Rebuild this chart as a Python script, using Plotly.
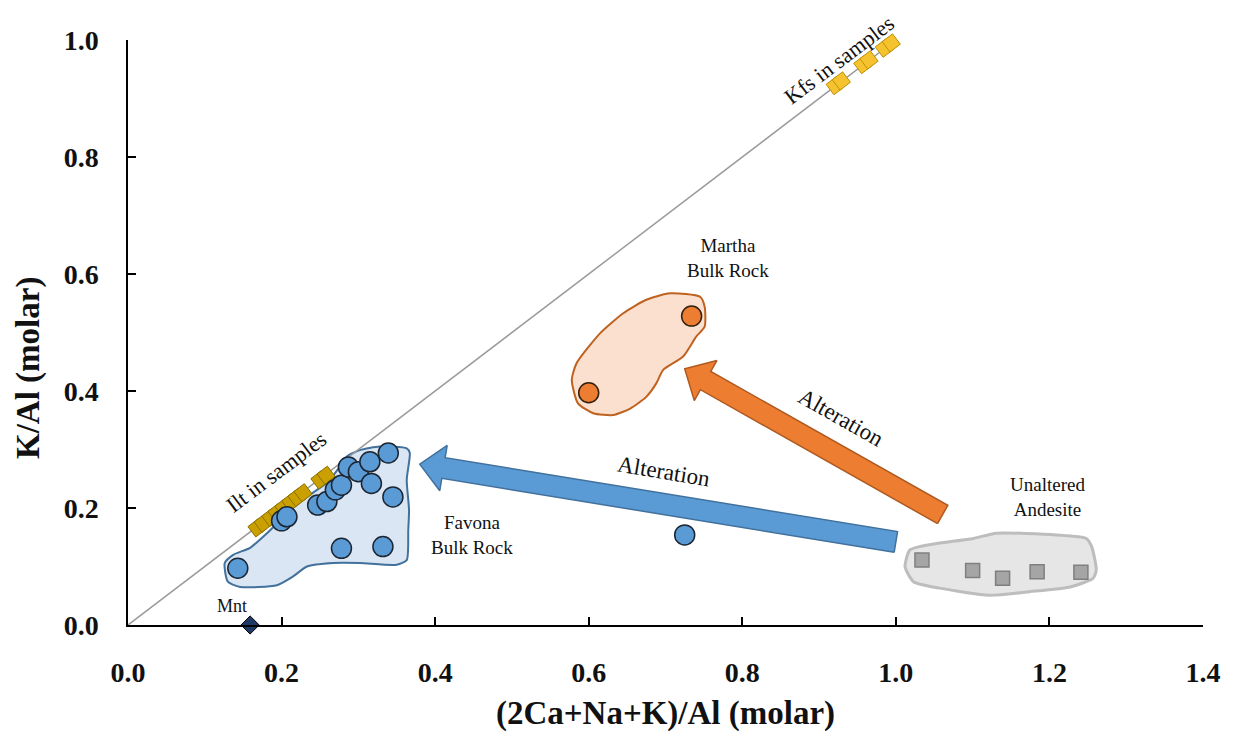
import numpy as np
import plotly.graph_objects as go

# ---------------- data ----------------
favona_x = [0.143, 0.200, 0.207, 0.247, 0.259, 0.270, 0.278, 0.287, 0.300, 0.315, 0.317, 0.339, 0.345, 0.278, 0.332, 0.725]
favona_y = [0.097, 0.178, 0.185, 0.205, 0.211, 0.231, 0.239, 0.270, 0.262, 0.279, 0.242, 0.294, 0.219, 0.131, 0.134, 0.154]

martha_x = [0.600, 0.734]
martha_y = [0.397, 0.528]

andesite_x = [1.034, 1.100, 1.139, 1.184, 1.241]
andesite_y = [0.111, 0.093, 0.080, 0.091, 0.090]

mnt_x = [0.159]
mnt_y = [0.0]

ilt_x = [0.168, 0.176, 0.186, 0.194, 0.203, 0.212, 0.220, 0.228, 0.250, 0.258]
ilt_y = [0.166, 0.174, 0.184, 0.192, 0.201, 0.210, 0.218, 0.226, 0.248, 0.256]

kfs_x = [0.921, 0.929, 0.957, 0.965, 0.985, 0.994]
kfs_y = [0.922, 0.930, 0.958, 0.966, 0.986, 0.995]

line_x = [0.0, 1.0]
line_y = [0.0, 1.0]

# region outlines (hand drawn fields)
favona_poly_x = [0.285, 0.302, 0.328, 0.363, 0.367, 0.363, 0.366, 0.365, 0.363, 0.350, 0.302, 0.267, 0.233, 0.215,
                 0.194, 0.146, 0.130, 0.126, 0.137, 0.159, 0.181, 0.224, 0.259, 0.276]
favona_poly_y = [0.288, 0.299, 0.305, 0.302, 0.294, 0.248, 0.197, 0.162, 0.111, 0.103, 0.106, 0.106, 0.100, 0.083,
                 0.068, 0.065, 0.074, 0.106, 0.120, 0.132, 0.157, 0.211, 0.243, 0.271]

martha_poly_x = [0.706, 0.745, 0.751, 0.751, 0.740, 0.723, 0.697, 0.688, 0.675, 0.654, 0.632, 0.606, 0.586, 0.578,
                 0.584, 0.615, 0.645, 0.675]
martha_poly_y = [0.567, 0.561, 0.544, 0.510, 0.493, 0.459, 0.436, 0.413, 0.390, 0.370, 0.359, 0.362, 0.379, 0.419,
                 0.447, 0.499, 0.533, 0.556]

andesite_poly_x = [1.018, 1.012, 1.023, 1.057, 1.122, 1.174, 1.227, 1.257, 1.261, 1.255, 1.248, 1.209, 1.131, 1.101,
                   1.057, 1.031]
andesite_poly_y = [0.128, 0.100, 0.074, 0.063, 0.051, 0.057, 0.065, 0.080, 0.094, 0.134, 0.148, 0.154, 0.157, 0.148,
                   0.140, 0.134]

# alteration arrows: tail -> tip
blue_arrow_tail = (1.000, 0.142)
blue_arrow_tip = (0.380, 0.275)
orange_arrow_tail = (1.061, 0.189)
orange_arrow_tip = (0.725, 0.438)

x_ticks = [0.0, 0.2, 0.4, 0.6, 0.8, 1.0, 1.2, 1.4]
y_ticks = [0.0, 0.2, 0.4, 0.6, 0.8, 1.0]

# ---------------- layout geometry ----------------
W, H = 1234, 738
ML, MR, MT, MB = 128, 31, 40, 113
XR = (0.0, 1.4)
YR = (0.0, 1.0)
SX = (W - ML - MR) / (XR[1] - XR[0])   # px per unit
SY = (H - MT - MB) / (YR[1] - YR[0])

SERIF = "Liberation Serif, DejaVu Serif, serif"


def block_arrow(tail, tip, shaft_w=21, head_w=46, head_len=24):
    # build in pixel space, convert back to data units
    tx, ty = tail[0] * SX, tail[1] * SY
    hx, hy = tip[0] * SX, tip[1] * SY
    dx, dy = hx - tx, hy - ty
    L = np.hypot(dx, dy)
    ux, uy = dx / L, dy / L
    px, py = -uy, ux
    bx, by = hx - ux * head_len, hy - uy * head_len
    pts = [
        (tx + px * shaft_w / 2, ty + py * shaft_w / 2),
        (bx + px * shaft_w / 2, by + py * shaft_w / 2),
        (bx + px * head_w / 2, by + py * head_w / 2),
        (hx, hy),
        (bx - px * head_w / 2, by - py * head_w / 2),
        (bx - px * shaft_w / 2, by - py * shaft_w / 2),
        (tx - px * shaft_w / 2, ty - py * shaft_w / 2),
        (tx + px * shaft_w / 2, ty + py * shaft_w / 2),
    ]
    return [p[0] / SX for p in pts], [p[1] / SY for p in pts]


fig = go.Figure()

# regions
def region(xs, ys, fill, edge, width):
    fig.add_trace(go.Scatter(
        x=xs + xs[:1], y=ys + ys[:1], mode="lines", fill="toself",
        fillcolor=fill, line=dict(color=edge, width=width, shape="spline", smoothing=0.6),
        hoverinfo="skip", showlegend=False))

region(favona_poly_x, favona_poly_y, "#DAE6F3", "#41719C", 2)
region(martha_poly_x, martha_poly_y, "#FBE0CF", "#C0621F", 2)
region(andesite_poly_x, andesite_poly_y, "#E6E6E6", "#BDBDBD", 3)

# 1:1 line
fig.add_trace(go.Scatter(x=line_x, y=line_y, mode="lines",
                         line=dict(color="#9A9A9A", width=1.5), hoverinfo="skip", showlegend=False))

# arrows
bx_, by_ = block_arrow(blue_arrow_tail, blue_arrow_tip)
fig.add_trace(go.Scatter(x=bx_, y=by_, mode="lines", fill="toself", fillcolor="#5B9BD5",
                         line=dict(color="#41719C", width=1.5), hoverinfo="skip", showlegend=False))
ox_, oy_ = block_arrow(orange_arrow_tail, orange_arrow_tip)
fig.add_trace(go.Scatter(x=ox_, y=oy_, mode="lines", fill="toself", fillcolor="#ED7D31",
                         line=dict(color="#AE5A21", width=1.5), hoverinfo="skip", showlegend=False))

# markers
fig.add_trace(go.Scatter(x=ilt_x, y=ilt_y, mode="markers", cliponaxis=False,
                         marker=dict(symbol="square", size=13, angle=-37, color="#C9A000",
                                     line=dict(color="#8C7000", width=1)),
                         name="Ilt", showlegend=False))
fig.add_trace(go.Scatter(x=kfs_x, y=kfs_y, mode="markers", cliponaxis=False,
                         marker=dict(symbol="square", size=13, angle=-37, color="#F5C330",
                                     line=dict(color="#BF9000", width=1)),
                         name="Kfs", showlegend=False))
fig.add_trace(go.Scatter(x=favona_x, y=favona_y, mode="markers", cliponaxis=False,
                         marker=dict(symbol="circle", size=20, color="#5B9BD5",
                                     line=dict(color="#1C2633", width=1.5)),
                         name="Favona", showlegend=False))
fig.add_trace(go.Scatter(x=martha_x, y=martha_y, mode="markers", cliponaxis=False,
                         marker=dict(symbol="circle", size=20, color="#ED7D31",
                                     line=dict(color="#33200F", width=1.5)),
                         name="Martha", showlegend=False))
fig.add_trace(go.Scatter(x=andesite_x, y=andesite_y, mode="markers", cliponaxis=False,
                         marker=dict(symbol="square", size=14, color="#A5A5A5",
                                     line=dict(color="#7F7F7F", width=1.5)),
                         name="Andesite", showlegend=False))
fig.add_trace(go.Scatter(x=mnt_x, y=mnt_y, mode="markers", cliponaxis=False,
                         marker=dict(symbol="diamond", size=14, color="#1F3864",
                                     line=dict(color="#000000", width=1)),
                         name="Mnt", showlegend=False))

# labels
def label(x, y, text, angle=0, size=18):
    fig.add_annotation(x=x, y=y, text=text, showarrow=False, textangle=angle,
                       font=dict(family=SERIF, size=size, color="#111111"))

label(0.927, 0.966, "Kfs in samples", angle=-37, size=22)
label(0.194, 0.262, "Ilt in samples", angle=-37, size=22)
label(0.135, 0.033, "Mnt", size=18)
label(0.781, 0.627, "Martha<br>Bulk Rock", size=19)
label(0.448, 0.154, "Favona<br>Bulk Rock", size=19)
label(1.197, 0.219, "Unaltered<br>Andesite", size=19)
label(0.698, 0.262, "Alteration", angle=9.5, size=23)
label(0.928, 0.354, "Alteration", angle=29.5, size=23)

# y-axis title (placed as in the reference, slightly below plot centre)
fig.add_annotation(xref="paper", yref="paper", x=(28 - ML) / (W - ML - MR), y=(625 - 368) / (H - MT - MB),
                   xanchor="center", yanchor="middle",
                   text="<b>K/Al (molar)</b>", textangle=-90, showarrow=False,
                   font=dict(family=SERIF, size=33, color="#111111"))

axis_common = dict(showline=True, linecolor="#000000", linewidth=1.5, ticks="inside",
                   ticklen=8, tickwidth=1.5, tickcolor="#000000", showgrid=False, zeroline=False,
                   tickfont=dict(family=SERIF, size=28, color="#111111", weight="bold"))

fig.update_layout(
    width=W, height=H,
    margin=dict(l=ML, r=MR, t=MT, b=MB),
    paper_bgcolor="white", plot_bgcolor="white",
    xaxis=dict(range=list(XR), tickvals=x_ticks, ticktext=[f"{v:.1f}" for v in x_ticks],
               ticklabelstandoff=22,
               title=dict(text="<b>(2Ca+Na+K)/Al (molar)</b>", standoff=14,
                          font=dict(family=SERIF, size=33, color="#111111")),
               **axis_common),
    yaxis=dict(range=list(YR), tickvals=y_ticks, ticktext=[f"{v:.1f}" for v in y_ticks],
               ticklabelstandoff=22, **axis_common),
)

fig.write_html("out.html")
